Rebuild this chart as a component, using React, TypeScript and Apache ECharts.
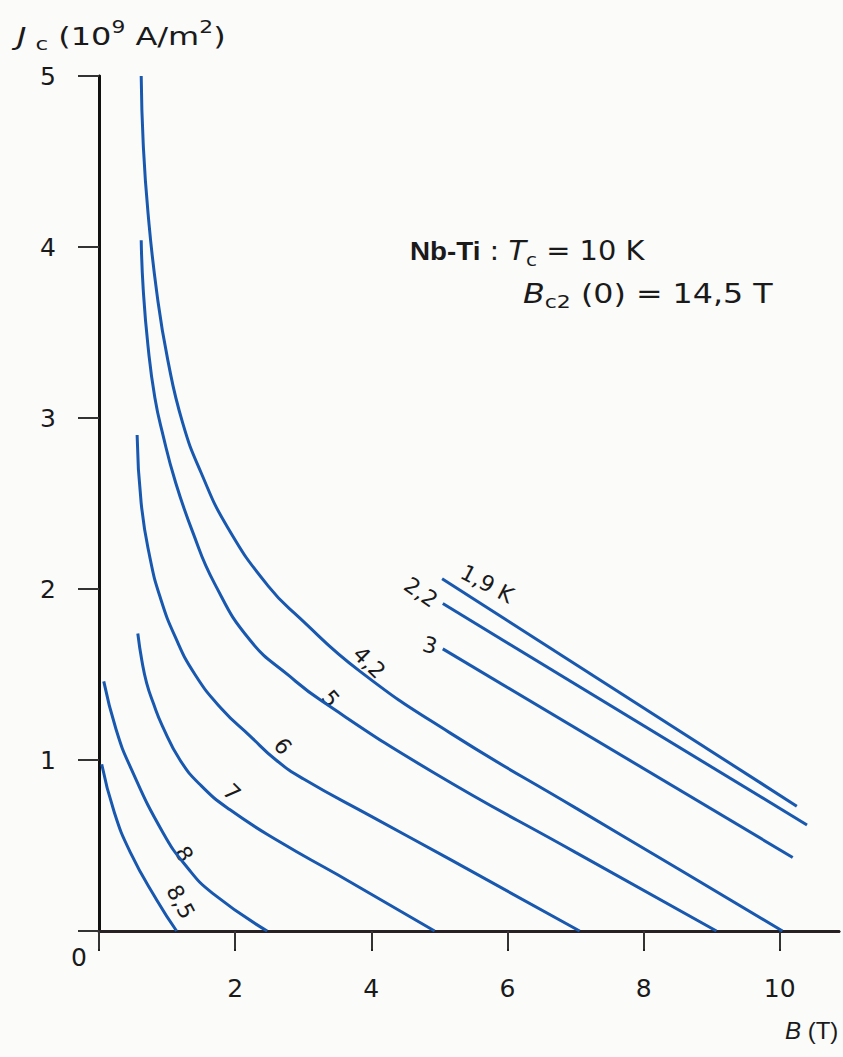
import React, { useEffect, useRef } from "react";
import * as echarts from "echarts";

const FONT = "'DejaVu Sans', 'Liberation Sans', Arial, sans-serif";
const FONT_NARROW = "'Liberation Sans', Arial, Helvetica, sans-serif";

// Axis ticks / labels
const xTickValues = [0, 2, 4, 6, 8, 10];
const xLabelValues = [2, 4, 6, 8, 10];
const yTickValues = [0, 1, 2, 3, 4, 5];
const yLabelValues = [1, 2, 3, 4, 5];

// Critical current density Jc (10^9 A/m^2) vs field B (T), per temperature
const curve1p9K = [[5.04, 2.06], [10.25, 0.73]];
const curve2p2K = [[5.05, 1.915], [10.4, 0.62]];
const curve3K = [[5.05, 1.65], [10.19, 0.43]];
const curve4p2K = [
  [0.62, 5.0], [0.65, 4.6], [0.72, 4.2], [0.85, 3.73], [1.01, 3.34], [1.23, 2.97],
  [1.5, 2.68], [1.89, 2.36], [2.48, 2.02], [2.95, 1.83], [3.83, 1.52], [5.15, 1.16],
  [7.0, 0.72], [8.5, 0.365], [10.04, 0],
];
const curve5K = [
  [0.62, 4.04], [0.65, 3.75], [0.72, 3.42], [0.82, 3.12], [0.94, 2.9], [1.12, 2.63],
  [1.37, 2.34], [1.7, 2.03], [2.22, 1.7], [2.8, 1.49], [3.29, 1.34], [4.9, 0.93],
  [7.0, 0.46], [9.07, 0],
];
const curve6K = [
  [0.56, 2.9], [0.62, 2.5], [0.75, 2.18], [0.9, 1.95], [1.12, 1.72], [1.41, 1.5],
  [1.8, 1.3], [2.22, 1.14], [2.6, 1.0], [3.0, 0.89], [4.0, 0.67], [5.15, 0.42], [7.06, 0],
];
const curve7K = [
  [0.57, 1.74], [0.63, 1.58], [0.7, 1.45], [0.8, 1.33], [0.93, 1.2], [1.19, 1.0],
  [1.5, 0.85], [1.92, 0.71], [2.66, 0.52], [3.5, 0.33], [4.93, 0],
];
const curve8K = [[0.07, 1.46], [0.25, 1.18], [0.46, 0.96], [0.94, 0.575], [1.3, 0.37], [1.67, 0.22], [2.47, 0]];
const curve8p5K = [[0.04, 0.975], [0.22, 0.7], [0.46, 0.46], [0.85, 0.18], [1.14, 0]];

const curves = [
  { name: "1,9 K", data: curve1p9K },
  { name: "2,2 K", data: curve2p2K },
  { name: "3 K", data: curve3K },
  { name: "4,2 K", data: curve4p2K },
  { name: "5 K", data: curve5K },
  { name: "6 K", data: curve6K },
  { name: "7 K", data: curve7K },
  { name: "8 K", data: curve8K },
  { name: "8,5 K", data: curve8p5K },
];

// Curve labels: text, anchor in data coordinates, angle (deg, clockwise)
const curveLabelTexts = ["1,9 K", "2,2", "3", "4,2", "5", "6", "7", "8", "8,5"];
const curveLabelAnchors = [
  [5.7, 2.03], [4.73, 1.98], [4.86, 1.67], [3.97, 1.57], [3.4, 1.36],
  [2.7, 1.08], [1.95, 0.81], [1.25, 0.45], [1.2, 0.17],
];
const curveLabelAngles = [28, 35, 15, 45, 50, 50, 45, 60, 62];

const LINE_COLOR = "#1858ae";
const INK = "#1a1a1a";

export default function App() {
  const ref = useRef<HTMLDivElement>(null);

  useEffect(() => {
    if (!ref.current) return;
    const chart = echarts.init(ref.current, null, { renderer: "svg" });

    const option: any = {
      animation: false,
      backgroundColor: "#fbfbfa",
      grid: { left: 99, top: 76, width: 740, height: 855, containLabel: false },
      xAxis: [
        {
          type: "value",
          position: "bottom",
          min: 0,
          max: 10.87,
          interval: 2,
          axisLine: { show: true, lineStyle: { color: "#4e1a30", width: 3 } },
          axisTick: {
            show: true,
            inside: false,
            length: 20,
            customValues: xTickValues,
            lineStyle: { color: "#222", width: 2 },
          },
          axisLabel: {
            show: true,
            customValues: xLabelValues,
            margin: 45,
            fontSize: 25,
            fontFamily: FONT,
            color: INK,
          },
          splitLine: { show: false },
        },
        {
          type: "value",
          position: "top",
          min: 0,
          max: 10.87,
          interval: 2,
          axisLine: { show: true, lineStyle: { color: "#222", width: 2.5 } },
          axisTick: {
            show: true,
            inside: true,
            length: 18,
            customValues: xTickValues,
            lineStyle: { color: "#333", width: 2 },
          },
          axisLabel: { show: false },
          splitLine: { show: false },
        },
      ],
      yAxis: [
        {
          type: "value",
          position: "left",
          min: 0,
          max: 5,
          interval: 1,
          axisLine: { show: true, lineStyle: { color: "#111", width: 3 } },
          axisTick: {
            show: true,
            inside: false,
            length: 21,
            customValues: yTickValues,
            lineStyle: { color: "#333", width: 2 },
          },
          axisLabel: {
            show: true,
            customValues: yLabelValues,
            margin: 43,
            fontSize: 25,
            fontFamily: FONT,
            color: INK,
          },
          splitLine: { show: false },
        },
        {
          type: "value",
          position: "right",
          min: 0,
          max: 5,
          interval: 1,
          axisLine: { show: true, lineStyle: { color: "#111", width: 2.5 } },
          axisTick: {
            show: true,
            inside: true,
            length: 17,
            customValues: [1, 2, 3, 4],
            lineStyle: { color: "#333", width: 2 },
          },
          axisLabel: { show: false },
          splitLine: { show: false },
        },
      ],
      series: curves.map((c) => ({
        name: c.name,
        type: "line",
        xAxisIndex: 0,
        yAxisIndex: 0,
        data: c.data,
        showSymbol: false,
        symbol: "none",
        smooth: c.data.length > 2 ? 0.5 : false,
        lineStyle: { color: LINE_COLOR, width: 3 },
        clip: true,
        silent: true,
      })),
    };

    chart.setOption(option);

    const labelGraphics = curveLabelTexts.map((t, i) => {
      const p = chart.convertToPixel({ seriesIndex: 0 }, curveLabelAnchors[i]) as number[];
      return {
        type: "text",
        x: p[0],
        y: p[1],
        rotation: (-curveLabelAngles[i] * Math.PI) / 180,
        style: {
          text: t,
          x: 0,
          y: 0,
          align: "center",
          verticalAlign: "middle",
          fontSize: 22,
          fontFamily: FONT,
          fill: INK,
        },
        silent: true,
      };
    });

    const staticGraphics: any[] = [
      {
        type: "text",
        x: 17,
        y: 36,
        scaleX: 1.28,
        style: {
          text: "{i|J}{sub|c}{n| (10}{sup|9}{n| A/m}{sup|2}{n|)}",
          verticalAlign: "middle",
          fill: INK,
          rich: {
            i: { fontSize: 25, fontStyle: "italic", fontFamily: FONT, lineHeight: 34, fill: INK },
            sub: { fontSize: 18, fontFamily: FONT, lineHeight: 18, verticalAlign: "bottom", padding: [0, 0, 0, 7], fill: INK },
            n: { fontSize: 25, fontFamily: FONT, lineHeight: 34, fill: INK },
            sup: { fontSize: 17, fontFamily: FONT, lineHeight: 17, verticalAlign: "top", fill: INK },
          },
        },
      },
      {
        type: "text",
        x: 410,
        y: 251,
        scaleX: 1.11,
        style: {
          text: "{b|Nb-Ti}{n| : }{i|T}{sub|c}{n| = 10 K}",
          verticalAlign: "middle",
          fill: INK,
          rich: {
            b: { fontSize: 25, fontWeight: "bold", fontFamily: FONT_NARROW, lineHeight: 34, fill: INK },
            i: { fontSize: 26, fontStyle: "italic", fontFamily: FONT, lineHeight: 34, fill: INK },
            sub: { fontSize: 18, fontFamily: FONT, lineHeight: 18, verticalAlign: "bottom", fill: INK },
            n: { fontSize: 26, fontFamily: FONT, lineHeight: 34, fill: INK },
          },
        },
      },
      {
        type: "text",
        x: 523,
        y: 294,
        scaleX: 1.22,
        style: {
          text: "{i|B}{sub|c2}{n| (0) = 14,5 T}",
          verticalAlign: "middle",
          fill: INK,
          rich: {
            i: { fontSize: 26, fontStyle: "italic", fontFamily: FONT, lineHeight: 34, fill: INK },
            sub: { fontSize: 18, fontFamily: FONT, lineHeight: 18, verticalAlign: "bottom", fill: INK },
            n: { fontSize: 26, fontFamily: FONT, lineHeight: 34, fill: INK },
          },
        },
      },
      {
        type: "text",
        x: 785,
        y: 1030,
        style: {
          text: "{i|B}{n| (T)}",
          verticalAlign: "middle",
          fill: INK,
          rich: {
            i: { fontSize: 24, fontStyle: "italic", fontFamily: FONT_NARROW, fill: INK },
            n: { fontSize: 24, fontFamily: FONT_NARROW, fill: INK },
          },
        },
      },
      {
        type: "text",
        x: 79,
        y: 957,
        style: {
          text: "0",
          align: "center",
          verticalAlign: "middle",
          fontSize: 25,
          fontFamily: FONT,
          fill: INK,
        },
      },
    ];

    chart.setOption({ graphic: [...staticGraphics, ...labelGraphics] });

    return () => {
      chart.dispose();
    };
  }, []);

  return (
    <div
      ref={ref}
      style={{ position: "absolute", left: 0, top: 0, width: 843, height: 1057 }}
    />
  );
}
